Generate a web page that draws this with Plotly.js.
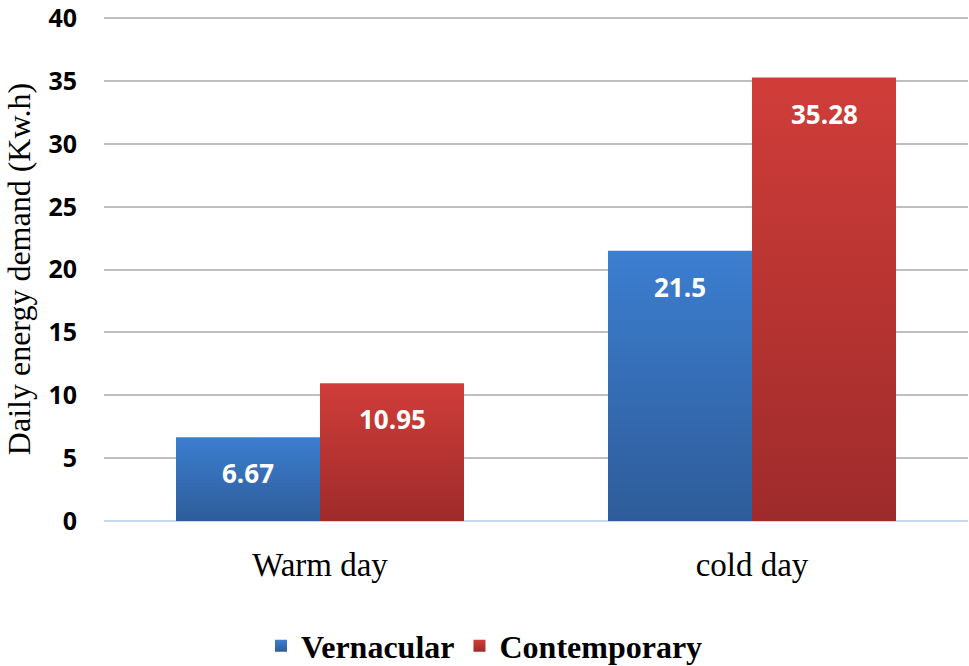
<!DOCTYPE html>
<html>
<head>
<meta charset="utf-8">
<script src="https://cdn.plot.ly/plotly-3.0.1.min.js"></script>
<style>
  html, body { margin: 0; padding: 0; background: #fff; }
  #chart { width: 969px; height: 666px; }
</style>
</head>
<body>
<div id="chart"></div>
<script>
// values
var categories = ['Warm day', 'cold day'];
var vernacular = [6.67, 21.5];
var contemporary = [10.95, 35.28];
var seriesNames = ['Vernacular', 'Contemporary'];
var yTicks = [0, 5, 10, 15, 20, 25, 30, 35, 40];

var serif = '"Liberation Serif", "DejaVu Serif", serif';
var sans = '"Open Sans", "Liberation Sans", sans-serif';

var traces = [
  {type: 'bar', x: categories, y: vernacular, name: seriesNames[0],
   marker: {color: '#356db8'}, hoverinfo: 'none'},
  {type: 'bar', x: categories, y: contemporary, name: seriesNames[1],
   marker: {color: '#bd3836'}, hoverinfo: 'none'}
];

// value labels sit a bit below the top of each bar
var annotations = [];
[vernacular, contemporary].forEach(function(vals, s){
  vals.forEach(function(v, i){
    annotations.push({
      x: categories[i], y: v, xref: 'x', yref: 'y',
      text: String(v), showarrow: false,
      xshift: s == 0 ? -72 : 72, yshift: -36, yanchor: 'middle',
      font: {family: sans, size: 26, color: '#ffffff', weight: 'bold'}
    });
  });
});

var layout = {
  width: 969, height: 666,
  margin: {l: 104, r: 1, t: 17, b: 145},
  paper_bgcolor: '#ffffff', plot_bgcolor: '#ffffff',
  barmode: 'group', bargap: 1/3, bargroupgap: 0,
  showlegend: true,
  legend: {
    orientation: 'h', xref: 'container', x: 0.5, xanchor: 'center',
    yref: 'container', y: 0.03, yanchor: 'middle',
    font: {family: serif, size: 32, color: '#000', weight: 'bold'},
    itemwidth: 30, tracegroupgap: 0
  },
  xaxis: {
    type: 'category', showgrid: false, showline: false, zeroline: false,
    ticks: '', tickfont: {family: serif, size: 33, color: '#000'},
    ticklabelstandoff: 21
  },
  yaxis: {
    range: [0, 40.1], tickvals: yTicks, showgrid: true,
    gridcolor: '#bfbfbf', gridwidth: 2,
    zeroline: true, zerolinecolor: '#c6d9f0', zerolinewidth: 2,
    showline: false, ticks: '', ticklabeloverflow: 'allow',
    tickfont: {family: sans, size: 25, color: '#000', weight: 'bold'},
    ticklabelstandoff: 26,
    title: {text: 'Daily energy demand (Kw.h)', standoff: 8,
            font: {family: serif, size: 32, color: '#000'}}
  },
  annotations: annotations
};

Plotly.newPlot('chart', traces, layout, {staticPlot: true}).then(function(gd){
  // vertical gradient fill on the bars, lighter at the top
  var svg = gd.querySelector('svg.main-svg');
  var ns = 'http://www.w3.org/2000/svg';
  var defs = document.createElementNS(ns, 'defs');
  var grads = [['gradV', '#3c7ed0', '#2e5c99'], ['gradC', '#d03d39', '#9e2b2b']];
  grads.forEach(function(g){
    var lg = document.createElementNS(ns, 'linearGradient');
    lg.setAttribute('id', g[0]);
    lg.setAttribute('x1', '0'); lg.setAttribute('y1', '0');
    lg.setAttribute('x2', '0'); lg.setAttribute('y2', '1');
    [[0, g[1]], [1, g[2]]].forEach(function(st){
      var stop = document.createElementNS(ns, 'stop');
      stop.setAttribute('offset', st[0]);
      stop.setAttribute('stop-color', st[1]);
      lg.appendChild(stop);
    });
    defs.appendChild(lg);
  });
  svg.insertBefore(defs, svg.firstChild);
  gd.querySelectorAll('g.trace.bars').forEach(function(tr, k){
    tr.querySelectorAll('path').forEach(function(p){
      p.style.fill = 'url(#' + grads[k][0] + ')';
    });
  });
  gd.querySelectorAll('g.legend g.traces').forEach(function(tr, k){
    tr.querySelectorAll('path').forEach(function(p){
      p.style.fill = 'url(#' + grads[k][0] + ')';
    });
  });
});
</script>
</body>
</html>
